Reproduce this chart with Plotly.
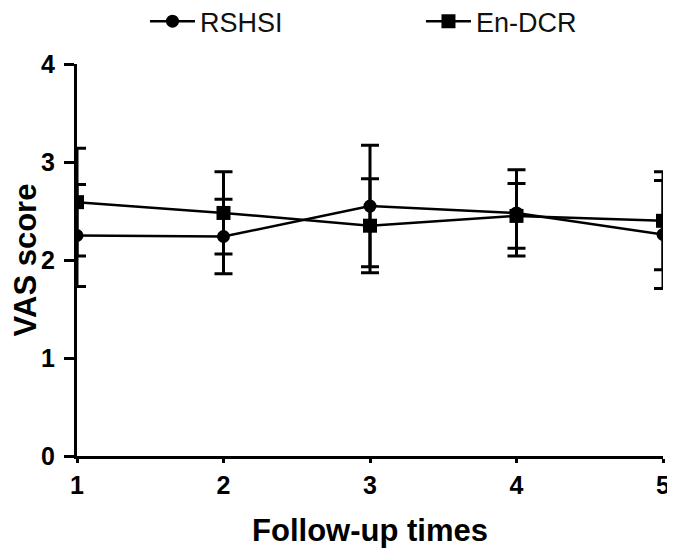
import plotly.graph_objects as go

follow_up = [1, 2, 3, 4, 5]
rshsi_mean = [2.25, 2.24, 2.55, 2.48, 2.26]
rshsi_sd = [0.52, 0.38, 0.62, 0.44, 0.55]
endcr_mean = [2.59, 2.48, 2.35, 2.45, 2.40]
endcr_sd = [0.55, 0.42, 0.48, 0.33, 0.50]
y_ticks = [0, 1, 2, 3, 4]

FONT = "Liberation Sans, Arial, sans-serif"

fig = go.Figure()
fig.add_trace(go.Scatter(
    x=follow_up, y=rshsi_mean, name="RSHSI", mode="lines+markers",
    line=dict(color="black", width=2.5),
    marker=dict(symbol="circle", size=13, color="black"),
    error_y=dict(type="data", array=rshsi_sd, visible=True, color="black",
                 thickness=3, width=9),
))
fig.add_trace(go.Scatter(
    x=follow_up, y=endcr_mean, name="En-DCR", mode="lines+markers",
    line=dict(color="black", width=2.5),
    marker=dict(symbol="square", size=14, color="black"),
    error_y=dict(type="data", array=endcr_sd, visible=True, color="black",
                 thickness=3, width=9),
))

fig.update_layout(
    width=675, height=550,
    margin=dict(l=69, r=20, t=56, b=102, autoexpand=False),
    paper_bgcolor="white", plot_bgcolor="white",
    font=dict(family=FONT, color="black"),
    showlegend=True,
    legend=dict(
        orientation="h", x=0.116, y=1.108, xanchor="left", yanchor="middle",
        entrywidth=216, entrywidthmode="pixels",
        font=dict(size=27, color="#111111", family=FONT),
        itemwidth=45,
    ),
    xaxis=dict(
        range=[1, 5], tickvals=follow_up, showgrid=False, zeroline=False,
        showline=True, linecolor="black", linewidth=3,
        ticks="outside", ticklen=4, tickwidth=2.5, tickcolor="black",
        tickfont=dict(size=25, family=FONT, weight="bold"),
        ticklabelstandoff=1,
        title=dict(text="<b>Follow-up times</b>", font=dict(size=31, family=FONT), standoff=22),
    ),
    yaxis=dict(
        range=[0, 4], tickvals=y_ticks, showgrid=False, zeroline=False,
        showline=True, linecolor="black", linewidth=3,
        ticks="outside", ticklen=10, tickwidth=2.5, tickcolor="black",
        tickfont=dict(size=25, family=FONT, weight="bold"),
        ticklabelstandoff=4, automargin=True,
        title=dict(text="<b>VAS score</b>", font=dict(size=31, family=FONT), standoff=22),
    ),
)

fig.write_html("out.html")
